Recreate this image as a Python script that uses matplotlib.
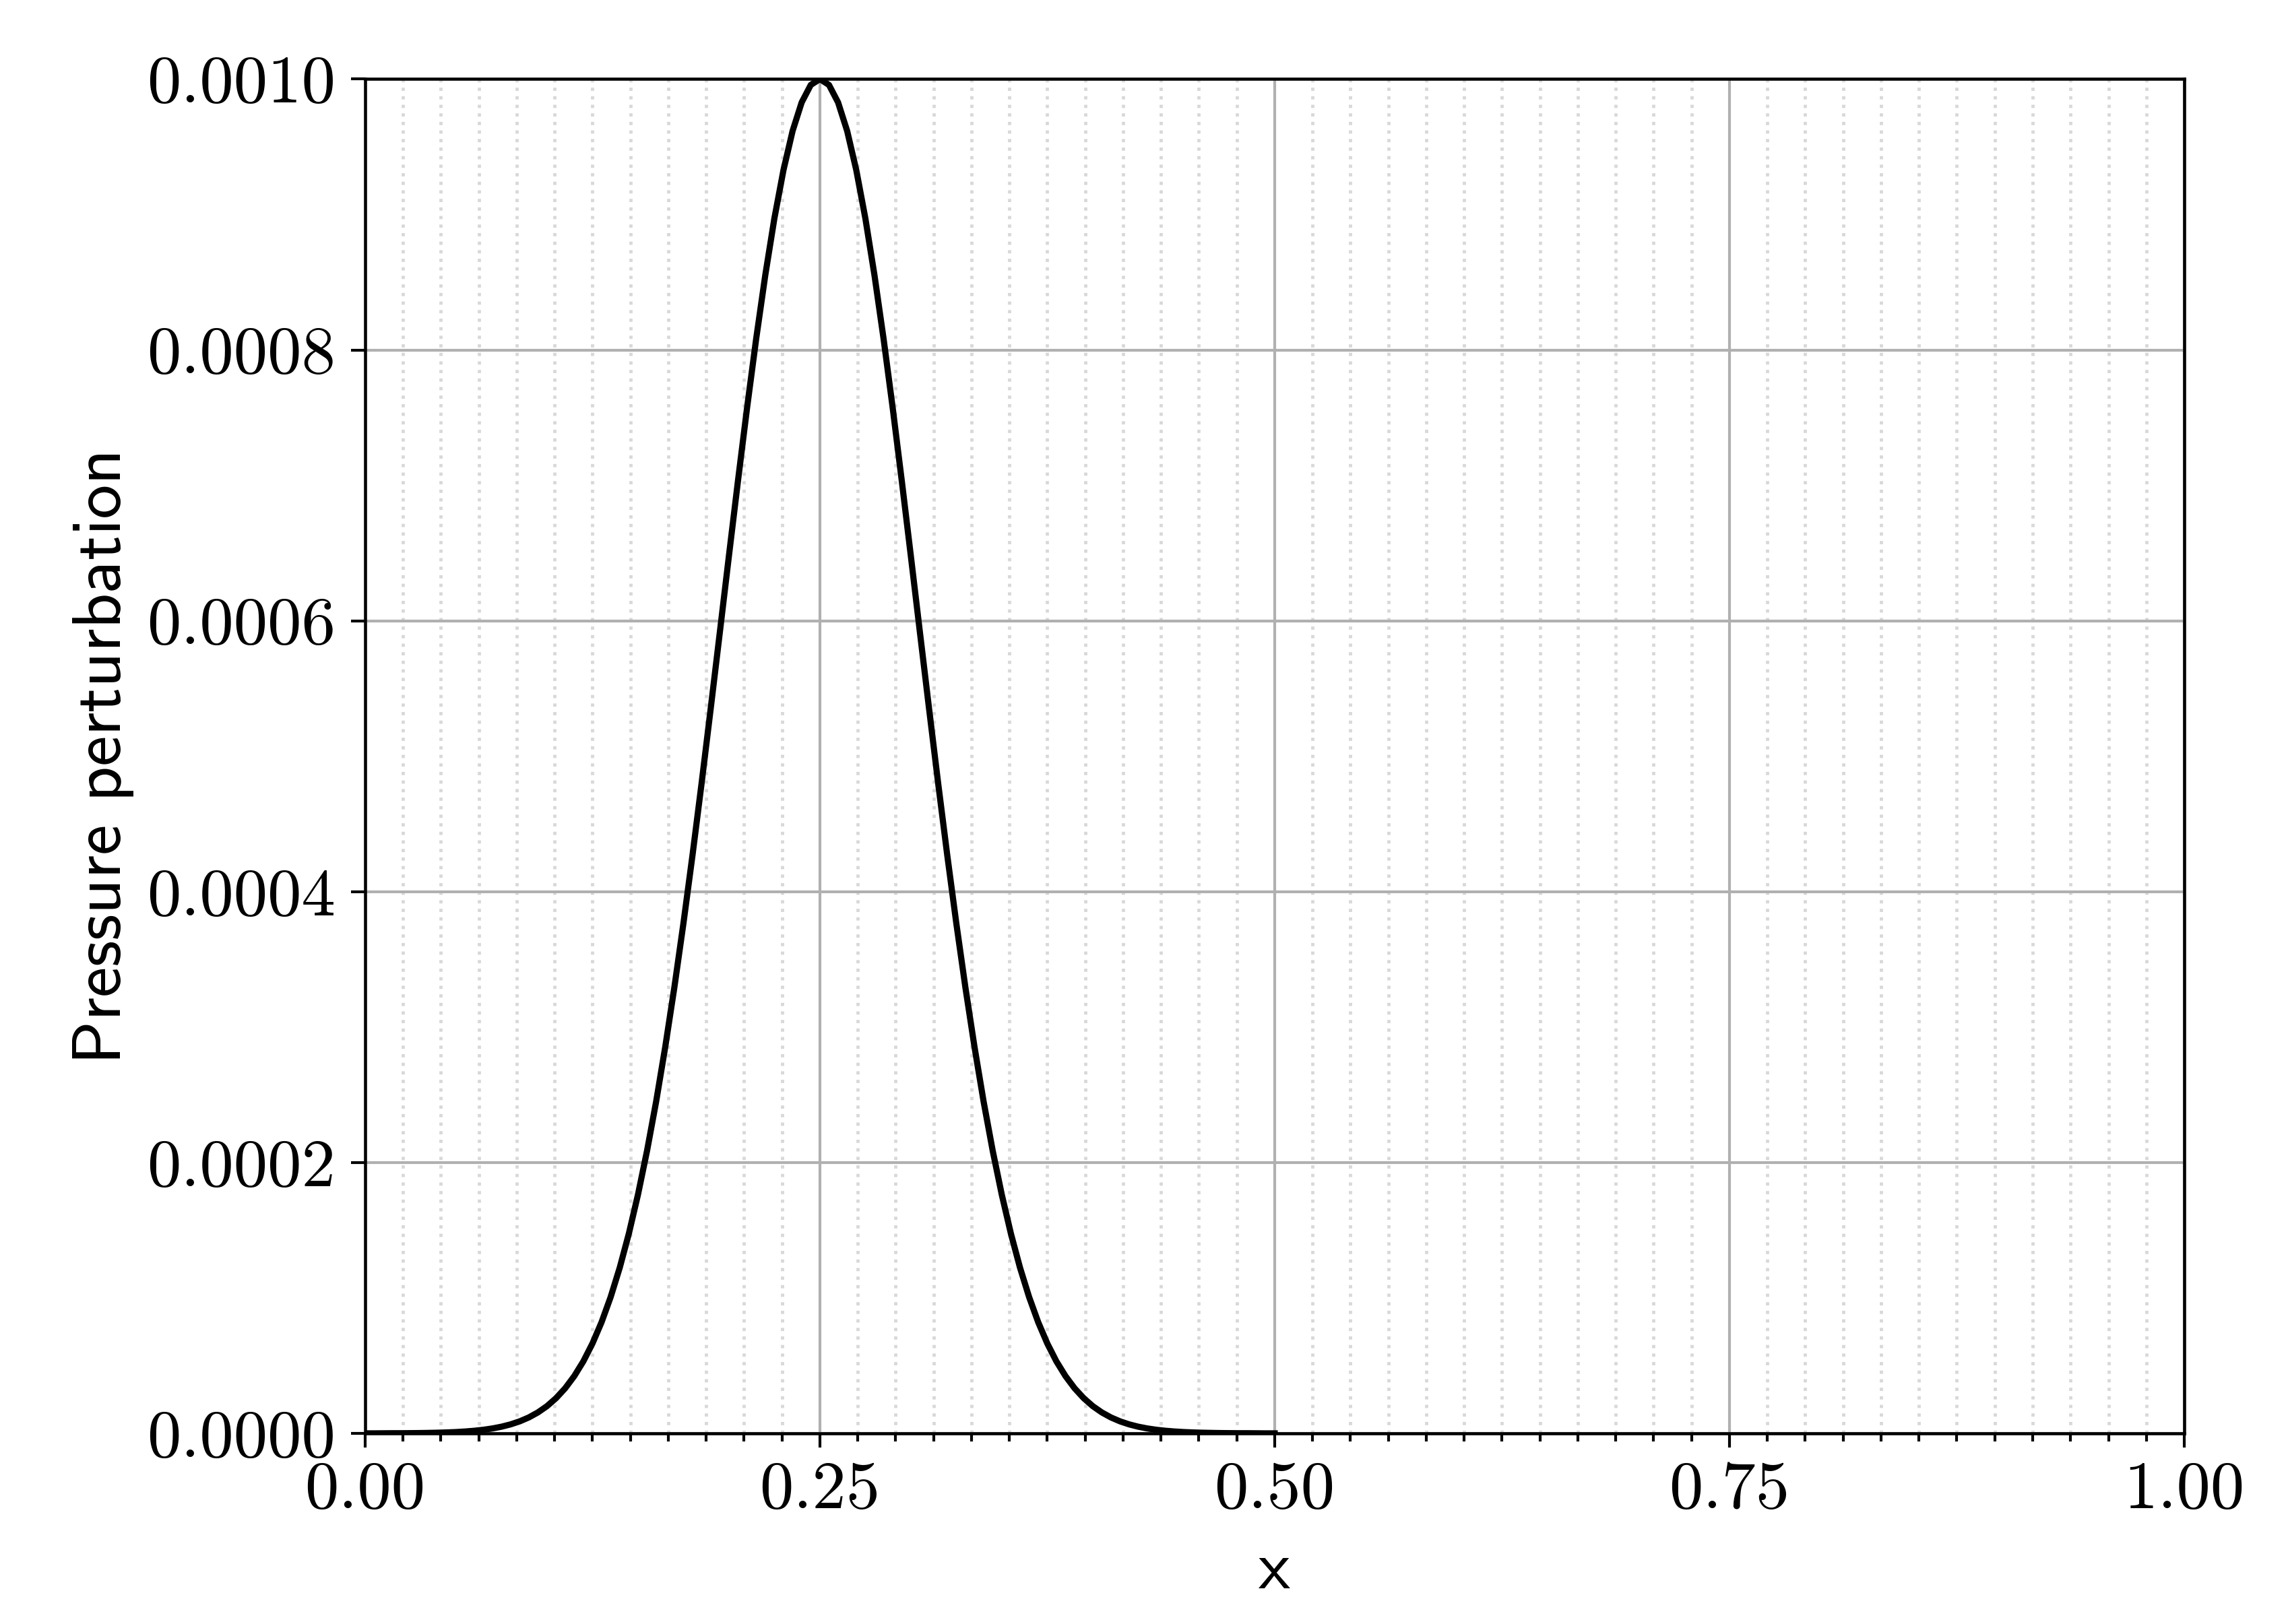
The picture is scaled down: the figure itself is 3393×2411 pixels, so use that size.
import numpy as np
import matplotlib
matplotlib.use('Agg')
import matplotlib.pyplot as plt
from matplotlib.ticker import MultipleLocator, FormatStrFormatter

pressure = [
    0.0, 0.0, 5e-8, 1e-7, 1e-7, 1.5e-7, 2.2e-7, 3.3e-7, 4.7e-7, 6.8e-7,
    9.6e-7, 1.36e-6, 1.90e-6, 2.63e-6, 3.61e-6, 4.91e-6, 6.63e-6, 8.86e-6, 1.174e-5, 1.544e-5,
    2.01e-5, 2.60e-5, 3.33e-5, 4.23e-5, 5.32e-5, 6.64e-5, 8.21e-5, 1.007e-4, 1.224e-4, 1.475e-4,
    1.762e-4, 2.087e-4, 2.450e-4, 2.853e-4, 3.292e-4, 3.766e-4, 4.271e-4, 4.802e-4, 5.353e-4, 5.914e-4,
    6.479e-4, 7.036e-4, 7.575e-4, 8.084e-4, 8.553e-4, 8.972e-4, 9.329e-4, 9.617e-4, 9.828e-4, 9.957e-4,
    1.0e-3,
    9.957e-4, 9.828e-4, 9.617e-4, 9.329e-4, 8.972e-4, 8.553e-4, 8.084e-4, 7.575e-4, 7.036e-4, 6.479e-4,
    5.914e-4, 5.353e-4, 4.802e-4, 4.271e-4, 3.766e-4, 3.292e-4, 2.853e-4, 2.450e-4, 2.087e-4, 1.762e-4,
    1.475e-4, 1.224e-4, 1.007e-4, 8.21e-5, 6.64e-5, 5.32e-5, 4.23e-5, 3.33e-5, 2.60e-5, 2.01e-5,
    1.544e-5, 1.174e-5, 8.86e-6, 6.63e-6, 4.91e-6, 3.61e-6, 2.63e-6, 1.90e-6, 1.36e-6, 9.6e-7,
    6.8e-7, 4.7e-7, 3.3e-7, 2.2e-7, 1.5e-7, 1e-7, 1e-7, 5e-8, 0.0, 0.0,
]
x = np.linspace(0.0, 0.5, len(pressure))

x_ticks = [0.0, 0.25, 0.5, 0.75, 1.0]
y_ticks = [0.0, 0.0002, 0.0004, 0.0006, 0.0008, 0.0010]

plt.rcParams['font.family'] = 'serif'
plt.rcParams['font.serif'] = ['cmr10']
plt.rcParams['axes.unicode_minus'] = False
plt.rcParams['mathtext.fontset'] = 'cm'

fig = plt.figure(figsize=(3393 / 300, 2411 / 300), dpi=300)
ax = fig.add_axes([0.1597, 0.1174, 0.7958, 0.8339])

ax.plot(x, pressure, color='black', lw=2.2)

ax.set_xlim(0, 1)
ax.set_ylim(0, 0.001)
ax.set_xticks(x_ticks)
ax.set_yticks(y_ticks)
ax.xaxis.set_minor_locator(MultipleLocator(1 / 48))
ax.xaxis.set_major_formatter(FormatStrFormatter('%.2f'))
ax.yaxis.set_major_formatter(FormatStrFormatter('%.4f'))

ax.grid(which='major', color='#b0b0b0', lw=1.0)
ax.grid(which='minor', axis='x', color='#d8d8d8', lw=1.15, linestyle=':')

for sp in ax.spines.values():
    sp.set_linewidth(1.1)
ax.tick_params(which='major', length=5, width=1.0, labelsize=24.2)
ax.tick_params(axis='x', which='major', pad=5)
ax.tick_params(axis='y', which='major', pad=5.5)
ax.tick_params(which='minor', length=2.9, width=1.0)

ax.set_xlabel('x', fontfamily='cmss10', fontsize=24.5, labelpad=7)
ax.set_ylabel('Pressure perturbation', fontfamily='cmss10', fontsize=24.5, labelpad=4.5)

fig.savefig('out.png', dpi=300)
